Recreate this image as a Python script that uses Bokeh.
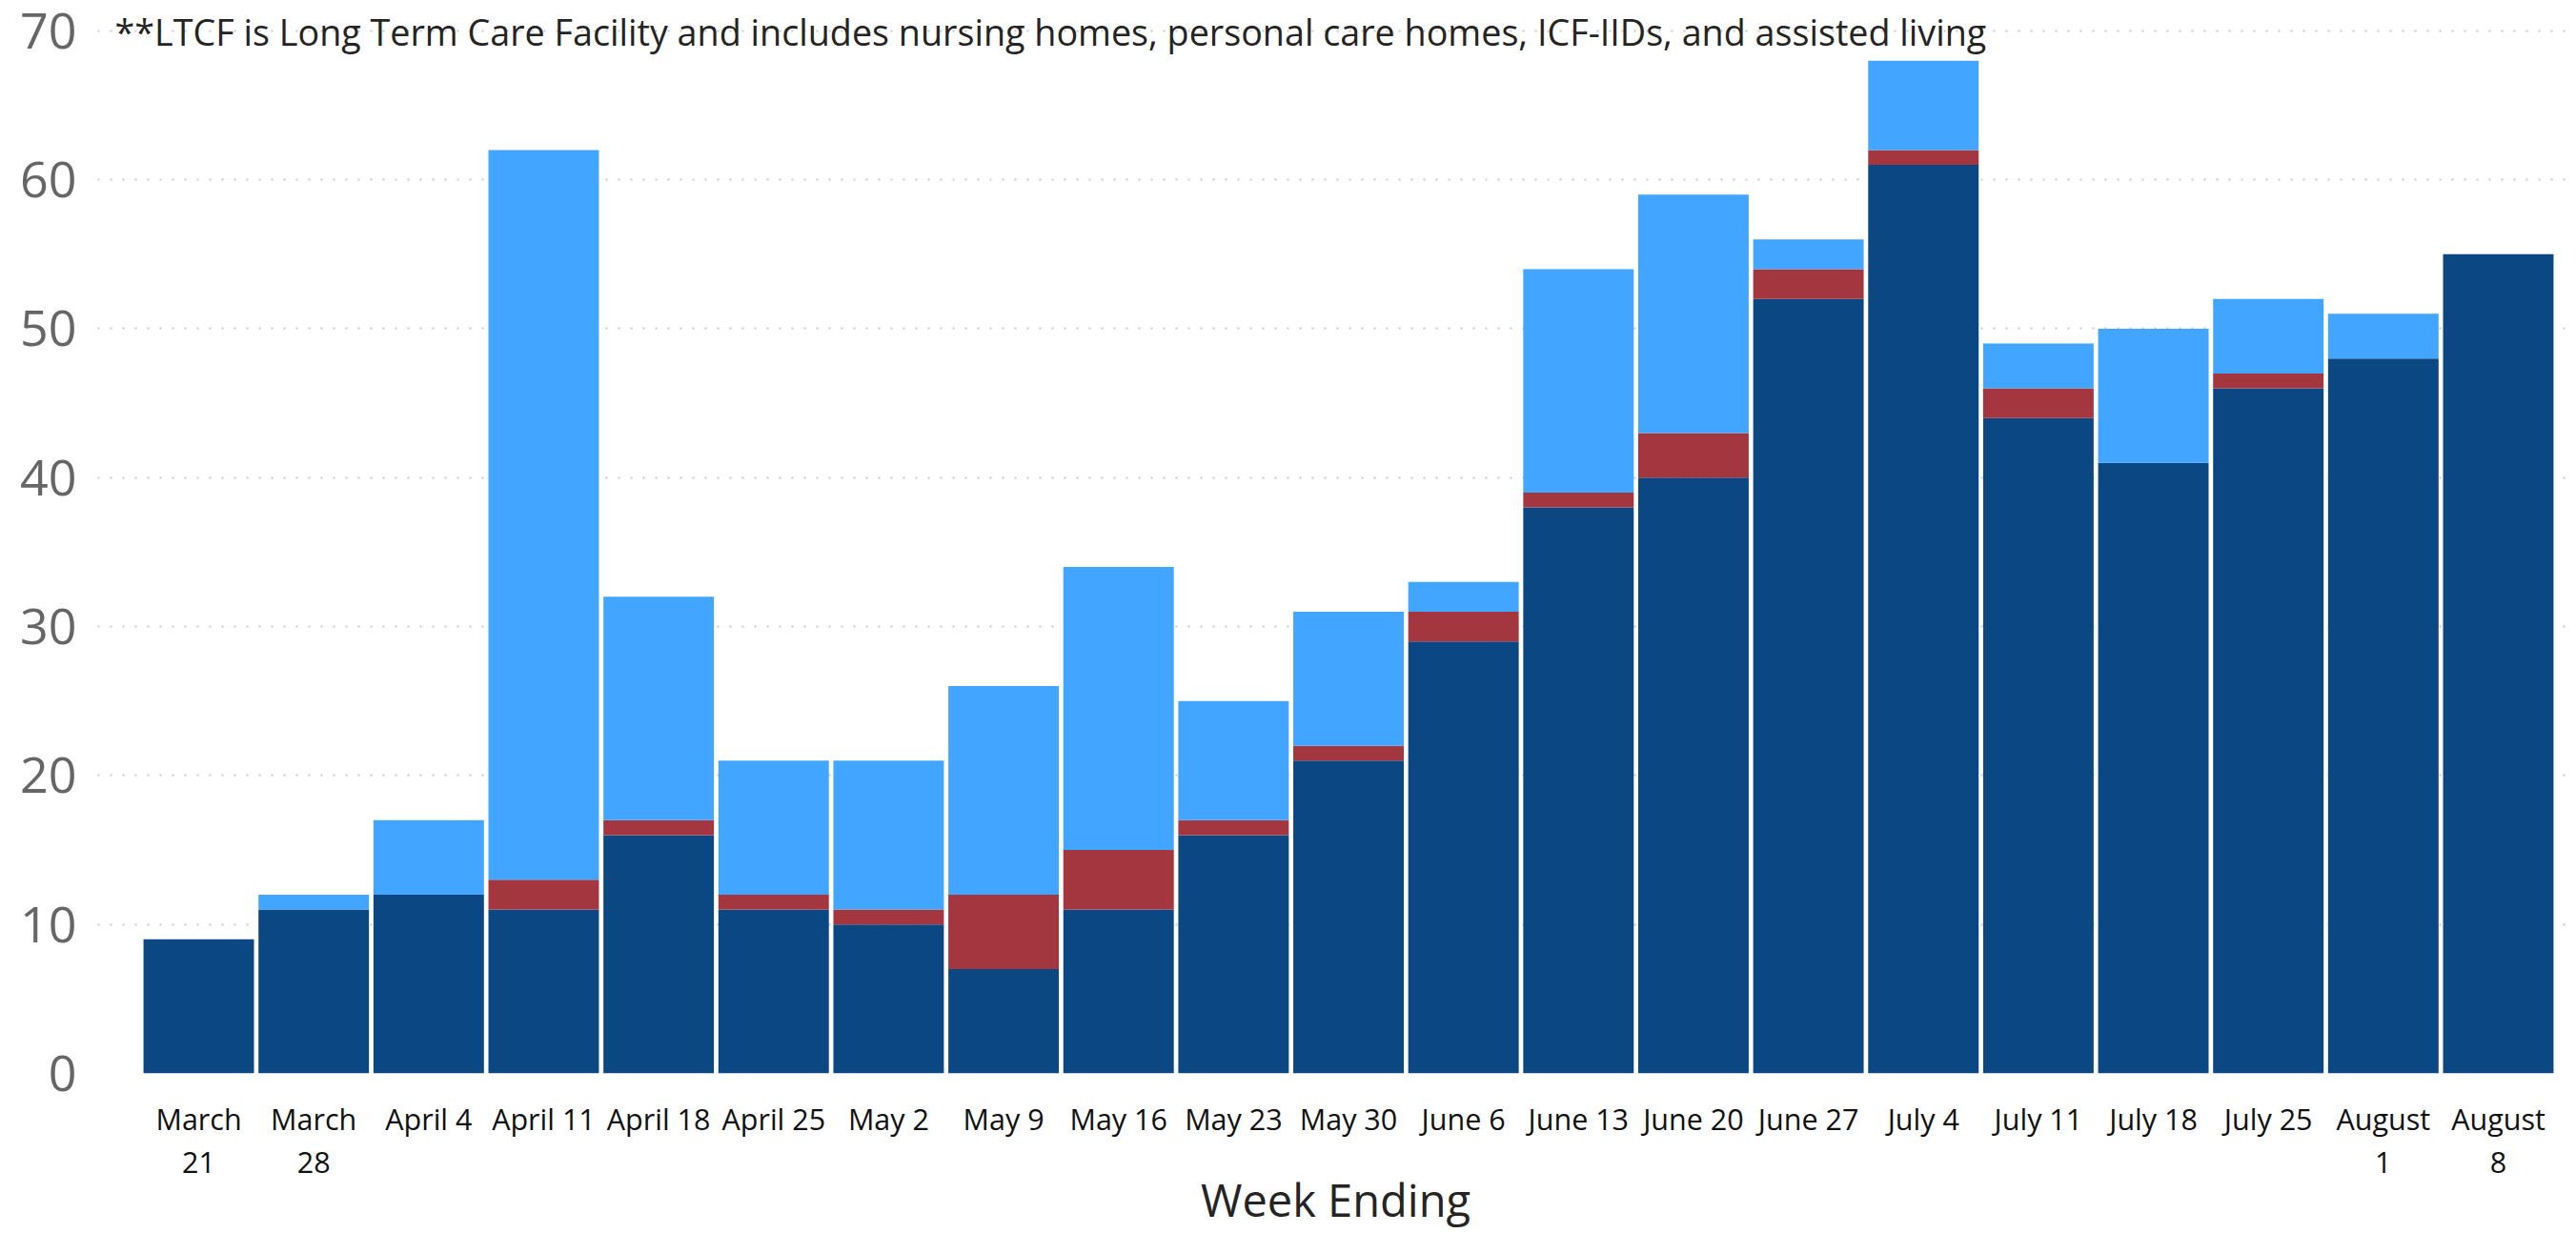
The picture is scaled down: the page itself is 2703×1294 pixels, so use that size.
from bokeh.plotting import figure
from bokeh.models import ColumnDataSource, Range1d, FixedTicker, Label
from bokeh.embed import file_html
from bokeh.resources import INLINE

weeks = ["March\n21", "March\n28", "April 4", "April 11", "April 18", "April 25",
         "May 2", "May 9", "May 16", "May 23", "May 30", "June 6", "June 13",
         "June 20", "June 27", "July 4", "July 11", "July 18", "July 25",
         "August\n1", "August\n8"]
non_ltcf = [9, 11, 12, 11, 16, 11, 10, 7, 11, 16, 21, 29, 38, 40, 52, 61, 44, 41, 46, 48, 55]
unknown = [0, 0, 0, 2, 1, 1, 1, 5, 4, 1, 1, 2, 1, 3, 2, 1, 2, 0, 1, 0, 0]
ltcf = [0, 1, 5, 49, 15, 9, 10, 14, 19, 8, 9, 2, 15, 16, 2, 6, 3, 9, 5, 3, 0]
y_ticks = [0, 10, 20, 30, 40, 50, 60, 70]
note = "**LTCF is Long Term Care Facility and includes nursing homes, personal care homes, ICF-IIDs, and assisted living"
x_title = "Week Ending"

xs = list(range(len(weeks)))
source = ColumnDataSource(dict(x=xs, non_ltcf=non_ltcf, unknown=unknown, ltcf=ltcf))

FONT = "Open Sans"

p = figure(width=2703, height=1294, output_backend="svg", toolbar_location=None,
           x_range=Range1d(-0.879, 20.655), y_range=Range1d(0, 72.04),
           min_border_left=102, min_border_right=3, min_border_top=0, min_border_bottom=168)
p.outline_line_color = None
p.background_fill_color = "white"
p.border_fill_color = "white"

p.vbar_stack(["non_ltcf", "unknown", "ltcf"], x="x", width=0.961, source=source,
             color=["#0B4883", "#A4363F", "#42A5FF"], line_color=None)

# y axis
p.yaxis.ticker = FixedTicker(ticks=y_ticks)
p.yaxis.axis_line_color = None
p.yaxis.major_tick_line_color = None
p.yaxis.minor_tick_line_color = None
p.yaxis.major_tick_out = 0
p.yaxis.major_label_standoff = 22
p.yaxis.major_label_text_font = FONT
p.yaxis.major_label_text_font_size = "52px"
p.yaxis.major_label_text_color = "#666666"

# x axis
p.xaxis.ticker = FixedTicker(ticks=xs)
p.xaxis.major_label_overrides = {i: w for i, w in enumerate(weeks)}
p.xaxis.axis_line_color = None
p.xaxis.major_tick_line_color = None
p.xaxis.minor_tick_line_color = None
p.xaxis.major_tick_out = 0
p.xaxis.major_label_standoff = 26
p.xaxis.major_label_text_font = FONT
p.xaxis.major_label_text_font_size = "30.5px"
p.xaxis.major_label_text_line_height = 1.08
p.xaxis.major_label_text_color = "#111111"
p.xaxis.axis_label = x_title
p.xaxis.axis_label_text_font = FONT
p.xaxis.axis_label_text_font_size = "47px"
p.xaxis.axis_label_text_font_style = "normal"
p.xaxis.axis_label_text_color = "#252423"
p.xaxis.axis_label_standoff = -16

p.xgrid.grid_line_color = None
p.ygrid.ticker = FixedTicker(ticks=y_ticks)
p.ygrid.grid_line_color = "#C8C8C8"
p.ygrid.grid_line_width = 2
p.ygrid.grid_line_dash = "2 11"

p.add_layout(Label(x=-0.729, y=69.95, text=note, text_font=FONT, text_font_size="37.7px",
                   text_color="#252423", text_baseline="alphabetic", text_align="left"))

open("out.html", "w").write(file_html(p, INLINE))
